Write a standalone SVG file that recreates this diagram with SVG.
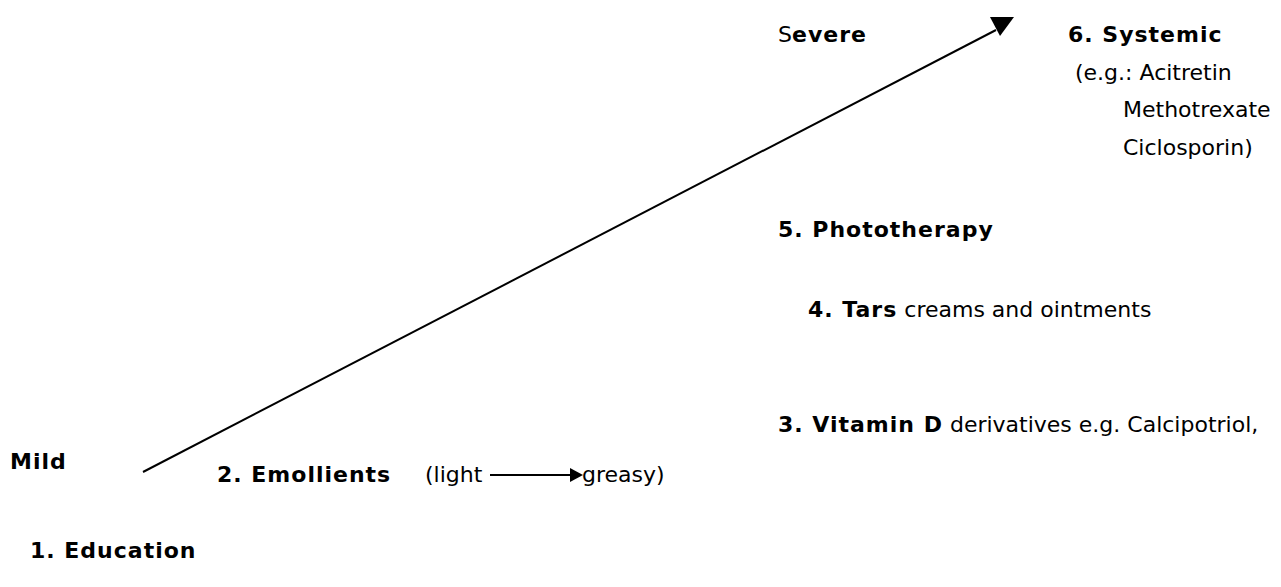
<svg xmlns="http://www.w3.org/2000/svg" width="1281" height="587" viewBox="0 0 1281 587">
<style>
text{font-family:"DejaVu Sans","Verdana",sans-serif;font-size:22px;fill:#000}
.b{font-weight:bold;letter-spacing:1px}
.c{stroke:#000;stroke-width:2;fill:none}
</style>
<rect width="1281" height="587" fill="#fff"/>
<g id="connectors">
<line class="c" x1="143" y1="472" x2="996" y2="30"/>
<polygon points="990,17 1014,17 1000,36" fill="#000"/>
<line class="c" x1="490" y1="475" x2="572" y2="475"/>
<polygon points="570,468 583,475 570,482" fill="#000"/>
</g>
<g id="severe"><text x="778" y="42">S<tspan class="b">evere</tspan></text></g>
<g id="mild"><text class="b" x="10" y="469">Mild</text></g>
<g id="systemic">
<text class="b" x="1068" y="42">6. Systemic</text>
<text x="1075" y="80">(e.g.:  Acitretin</text>
<text x="1123" y="117">Methotrexate</text>
<text x="1123" y="155">Ciclosporin)</text>
</g>
<g id="phototherapy"><text class="b" x="778" y="237">5. Phototherapy</text></g>
<g id="tars"><text x="808" y="317"><tspan class="b">4. Tars</tspan> creams and ointments</text></g>
<g id="vitd"><text x="778" y="432"><tspan class="b">3. Vitamin D</tspan> derivatives e.g. Calcipotriol,</text></g>
<g id="emollients"><text class="b" x="217" y="482">2. Emollients</text><text x="425" y="482">(light</text><text x="582" y="482">greasy)</text></g>
<g id="education"><text class="b" x="30" y="558">1. Education</text></g>
</svg>
